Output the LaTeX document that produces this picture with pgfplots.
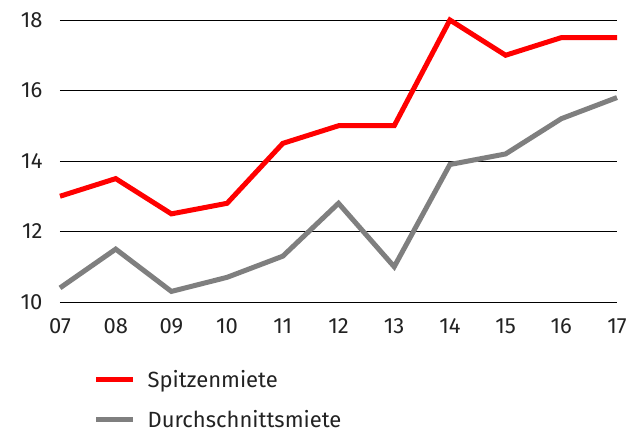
\documentclass[border=0pt]{standalone}
\usepackage{pgfplots}
\pgfplotsset{compat=1.18}
\usepackage{fontspec}
\setmainfont{Fira Sans}
\definecolor{sred}{HTML}{FF0000}
\definecolor{sgray}{HTML}{7F7F7F}
\definecolor{txt}{HTML}{222222}
\begin{document}
\begin{tikzpicture}
\begin{axis}[
  name=ax,
  scale only axis,
  width=557pt, height=282pt,
  xmin=0, xmax=10, ymin=10, ymax=18,
  xtick={0,...,10},
  xticklabels={07,08,09,10,11,12,13,14,15,16,17},
  ytick={10,12,14,16,18},
  axis line style={draw=none},
  major tick length=0pt,
  ymajorgrids, grid style={black, line width=0.7pt},
  tick label style={font=\fontsize{22}{26}\selectfont, text=txt},
  /pgf/number format/assume math mode=true,
  yticklabel style={xshift=-14pt},
  xticklabel style={yshift=-13pt},
  clip=false,
  legend style={at={(axis description cs:0.06,-0.235)}, anchor=north west, draw=none, fill=none,
    font=\fontsize{22}{26}\selectfont, text=txt, row sep=17pt, inner sep=0pt},
  legend cell align=left,
  legend image code/.code={\draw[#1, line width=5pt] (0pt,0pt) -- (37pt,0pt);},
]
\addplot[sred, line width=5pt] coordinates {(0,13) (1,13.5) (2,12.5) (3,12.8) (4,14.5) (5,15) (6,15) (7,18) (8,17) (9,17.5) (10,17.5)};
\addlegendentry{\hspace{10pt}Spitzenmiete}
\addplot[sgray, line width=5pt] coordinates {(0,10.4) (1,11.5) (2,10.3) (3,10.7) (4,11.3) (5,12.8) (6,11) (7,13.9) (8,14.2) (9,15.2) (10,15.8)};
\addlegendentry{\hspace{10pt}Durchschnittsmiete}
\end{axis}
\pgfresetboundingbox
\path[use as bounding box] ([xshift=-60pt,yshift=-130pt]ax.south west) rectangle ([xshift=27pt,yshift=20pt]ax.north east);
\end{tikzpicture}
\end{document}
